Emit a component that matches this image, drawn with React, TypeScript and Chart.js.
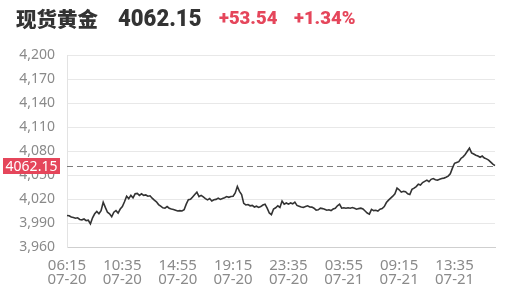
import React, { useEffect, useRef } from "react";
import { Chart, registerables } from "chart.js";

Chart.register(...registerables);

// ---- header values ----
const TITLE = "现货黄金";
const LAST_PRICE = 4062.15;
const CHANGE = "+53.54";
const CHANGE_PCT = "+1.34%";

// ---- axis settings ----
const Y_MIN = 3960;
const Y_MAX = 4200;
const Y_STEP = 30;
const START_TIME = "06:15";
const START_DATE = "07-20";
const NEXT_DATE = "07-21";
const STEP_MINUTES = 10;
const BREAK_FROM = "05:00";
const BREAK_TO = "06:00";
const TICK_EVERY = 26; // one labelled tick every 260 minutes

// ---- price series (10-minute samples) ----
const PRICES = [
  4000, 3999.5, 3998, 3997.5, 3996.5, 3997, 3995, 3994.5, 3995.5, 3993.5,
  3994, 3989.5, 3997, 4002, 4005, 4002, 4006, 4016.5, 4010, 4004,
  4002, 3998.5, 4004, 4006, 4003, 4008, 4011, 4017, 4024, 4021,
  4025, 4022, 4027, 4027.5, 4025, 4027, 4025, 4025.5, 4024, 4024.5,
  4021.5, 4019, 4017, 4013.5, 4011.5, 4009.5, 4009, 4011, 4009, 4008,
  4007.5, 4006.5, 4005.5, 4006, 4005.5, 4007, 4014, 4019.5, 4020, 4023,
  4026, 4029, 4023.5, 4025, 4023, 4021, 4019.4, 4021, 4018, 4019.5,
  4020, 4021.5, 4020, 4021, 4022, 4023.5, 4022.5, 4023.5, 4024, 4028,
  4036, 4030, 4026, 4015, 4013, 4013.5, 4012, 4012.5, 4010.5, 4011.5,
  4010, 4011, 4013, 4014, 4009, 4003, 4001, 4008, 4009.5, 4012,
  4010, 4018, 4014, 4015.5, 4014, 4015.5, 4014.5, 4016.5, 4012.5, 4011.5,
  4010.5, 4010, 4011, 4012, 4010.5, 4010.3, 4009, 4006.5, 4007, 4009,
  4008.5, 4007.8, 4006.5, 4007, 4006, 4008, 4009, 4012, 4014, 4009,
  4009.5, 4009, 4009.5, 4009, 4009.8, 4009, 4007.8, 4008.5, 4009, 4008,
  4005.5, 4003, 4001.6, 4007.5, 4006, 4006.5, 4005.5, 4007.8, 4008.5, 4011,
  4016, 4019, 4021.5, 4024, 4027, 4034, 4032, 4029, 4030, 4029.5,
  4027, 4026, 4032.5, 4034, 4036, 4039, 4038, 4041, 4042.5, 4044,
  4042, 4045, 4046, 4044.5, 4044, 4045, 4046, 4046.5, 4047.5, 4049,
  4052, 4059, 4065, 4066, 4067, 4071, 4073, 4076, 4080, 4083.8,
  4078, 4076.5, 4075, 4074, 4072.5, 4074, 4071.5, 4070.5, 4069, 4066.5,
  4064, 4062.15,
];

const RED = "#e5465b";

function toMin(s: string) {
  const [h, m] = s.split(":").map(Number);
  return h * 60 + m;
}
function fmt(min: number) {
  const h = Math.floor(min / 60) % 24;
  const m = min % 60;
  return String(h).padStart(2, "0") + ":" + String(m).padStart(2, "0");
}
function buildLabels(n: number): string[][] {
  const out: string[][] = [];
  let t = toMin(START_TIME);
  const bFrom = 24 * 60 + toMin(BREAK_FROM);
  const bTo = 24 * 60 + toMin(BREAK_TO);
  for (let i = 0; i < n; i++) {
    out.push([fmt(t), t >= 24 * 60 ? NEXT_DATE : START_DATE]);
    t += STEP_MINUTES;
    if (t >= bFrom && t < bTo) t += bTo - bFrom;
  }
  return out;
}
const LABELS = buildLabels(PRICES.length);

const lastPricePlugin = {
  id: "lastPrice",
  beforeDatasetsDraw(chart: any) {
    const { ctx, chartArea, scales } = chart;
    const y = Math.round(scales.y.getPixelForValue(LAST_PRICE)) + 0.5;
    ctx.save();
    ctx.strokeStyle = "#7d7d7d";
    ctx.lineWidth = 1;
    ctx.setLineDash([6, 4]);
    ctx.beginPath();
    ctx.moveTo(chartArea.left, y);
    ctx.lineTo(chartArea.right, y);
    ctx.stroke();
    ctx.restore();
  },
  afterDatasetsDraw(chart: any) {
    const { ctx, scales } = chart;
    const y = Math.round(scales.y.getPixelForValue(LAST_PRICE));
    ctx.save();
    ctx.fillStyle = RED;
    ctx.fillRect(3, y - 8, 57, 16);
    ctx.fillStyle = "#ffffff";
    ctx.font = '14px "Noto Sans"';
    ctx.textAlign = "center";
    ctx.textBaseline = "middle";
    ctx.fillText(LAST_PRICE.toFixed(2), 31.5, y + 1);
    ctx.restore();
  },
};

function GoldChart() {
  const ref = useRef<HTMLCanvasElement | null>(null);
  useEffect(() => {
    if (!ref.current) return;
    const chart = new Chart(ref.current, {
      type: "line",
      data: {
        labels: LABELS as any,
        datasets: [
          {
            data: PRICES,
            borderColor: "#333333",
            borderWidth: 1.6,
            pointRadius: 0,
            tension: 0,
            fill: false,
          },
        ],
      },
      options: {
        animation: false,
        responsive: true,
        maintainAspectRatio: false,
        layout: { padding: { top: 55, right: 9, bottom: 0, left: 0 } },
        plugins: { legend: { display: false }, tooltip: { enabled: false } },
        scales: {
          x: {
            type: "category",
            offset: false,
            grid: { color: "rgba(0,0,0,0)", drawTicks: false },
            border: { display: true, color: "#cfcfcf", width: 1 },
            afterFit: (s: any) => {
              s.height = 43.5;
            },
            ticks: {
              autoSkip: false,
              maxRotation: 0,
              minRotation: 0,
              padding: 11,
              color: "#8a8a8a",
              font: { family: "Noto Sans", size: 15, lineHeight: 0.95 },
              callback: (_v: any, i: number) => (i % TICK_EVERY === 0 ? LABELS[i] : ""),
            },
          },
          y: {
            min: Y_MIN,
            max: Y_MAX,
            grid: { color: "#e8e8e8", drawTicks: false },
            border: { display: true, color: "#e3e3e3" },
            afterFit: (s: any) => {
              s.width = 67;
            },
            ticks: {
              stepSize: Y_STEP,
              padding: 12,
              color: "#8a8a8a",
              font: { family: "Noto Sans", size: 14 },
              callback: (v: any) => Number(v).toLocaleString("en-US"),
            },
          },
        },
      },
      plugins: [lastPricePlugin],
    });
    return () => chart.destroy();
  }, []);
  return <canvas ref={ref} />;
}

export default function App() {
  const base: React.CSSProperties = { position: "absolute", whiteSpace: "nowrap", lineHeight: 1, fontWeight: 700 };
  return (
    <div style={{ position: "absolute", left: 0, top: 0, width: 506, height: 291, background: "#fff" }}>
      <div style={{ position: "absolute", left: 0, top: 0, width: 506, height: 291 }}>
        <GoldChart />
      </div>
      <span style={{ ...base, left: 16, top: 7.5, fontSize: 20.5, color: "#333", fontFamily: '"Noto Sans CJK SC"', fontWeight: 900 }}>{TITLE}</span>
      <span
        style={{
          ...base,
          left: 118,
          top: 6,
          fontSize: 24,
          color: "#333",
          fontFamily: "Roboto",
          fontWeight: 900,
          transform: "scaleX(0.92)",
          transformOrigin: "left top",
        }}
      >
        {LAST_PRICE.toFixed(2)}
      </span>
      <span style={{ ...base, left: 219, top: 9.3, fontSize: 18.5, color: RED, fontFamily: "Roboto", fontWeight: 900 }}>{CHANGE}</span>
      <span style={{ ...base, left: 294, top: 9.3, fontSize: 18.5, color: RED, fontFamily: "Roboto", fontWeight: 900 }}>{CHANGE_PCT}</span>
    </div>
  );
}
